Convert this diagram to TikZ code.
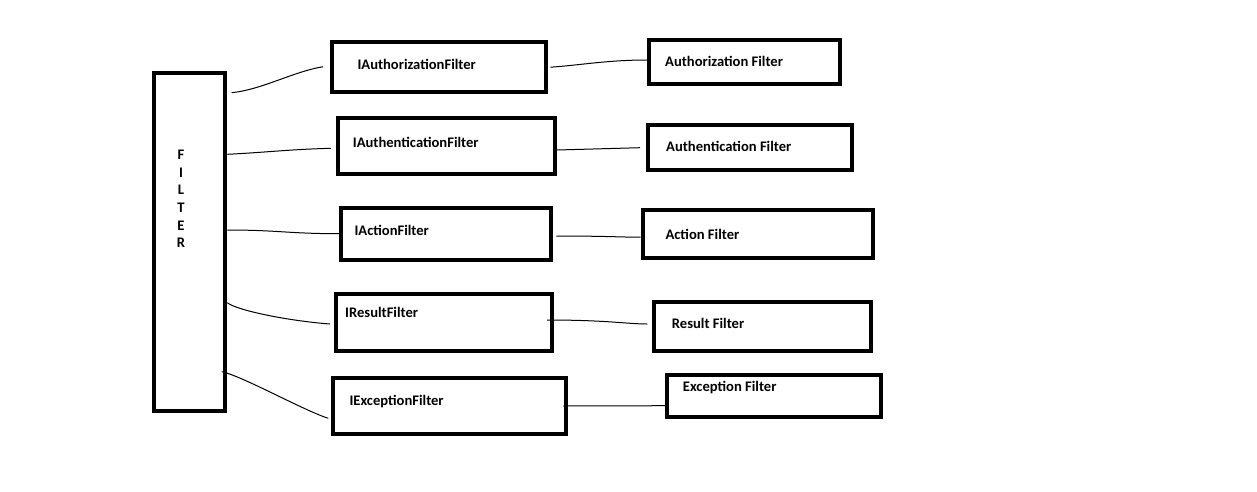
\documentclass[tikz,border=0pt]{standalone}
\usepackage{fontspec}
\setmainfont{Carlito}
\usetikzlibrary{calc}

\begin{document}
\begin{tikzpicture}[x=1pt,y=-1pt,
                    fbox/.style={draw, line width=4pt, inner sep=0pt},
                    lbl/.style={font=\bfseries\fontsize{14.6}{16}\selectfont, inner sep=0pt, anchor=base west},
                    wire/.style={line width=1pt}]
    \useasboundingbox (0,0) rectangle (1257,491);
    % main box
    \node[fbox, minimum width=71.6, minimum height=338.6] (filter) at (189.5,242) {};
    \foreach \ch [count=\i] in {F,I,L,T,E,R}
        \node[lbl, anchor=base] (ch\i) at (181,{159.3+17.7*(\i-1)}) {\ch};
    % interfaces
    \node[fbox, minimum width=214.3, minimum height=50.3] (iauthz) at (439.2,67.2) {};
    \node[fbox, minimum width=216.7, minimum height=56] (iauthn) at (446.3,146) {};
    \node[fbox, minimum width=210, minimum height=52] (iaction) at (446.3,233.7) {};
    \node[fbox, minimum width=216, minimum height=57.6] (iresult) at (444,322.5) {};
    \node[fbox, minimum width=233.6, minimum height=56] (iexcept) at (449.5,406) {};
    \node[lbl] (tiauthz) at (357.3,69.5) {IAuthorizationFilter};
    \node[lbl] (tiauthn) at (352.7,147.3) {IAuthenticationFilter};
    \node[lbl] (tiaction) at (354.3,235) {IActionFilter};
    \node[lbl] (tiresult) at (345,317.7) {IResultFilter};
    \node[lbl] (tiexcept) at (349.3,405.7) {IExceptionFilter};
    % filters
    \node[fbox, minimum width=191, minimum height=44] (authz) at (744.5,62) {};
    \node[fbox, minimum width=204, minimum height=44.4] (authn) at (750,147.5) {};
    \node[fbox, minimum width=230.3, minimum height=47.7] (action) at (757.8,234.2) {};
    \node[fbox, minimum width=217.6, minimum height=48.7] (result) at (762.5,326.3) {};
    \node[fbox, minimum width=214.3, minimum height=42.6] (except) at (774.2,396) {};
    \node[lbl] (tauthz) at (665,66) {Authorization Filter};
    \node[lbl] (tauthn) at (666,151.7) {Authentication Filter};
    \node[lbl] (taction) at (665.3,239.3) {Action Filter};
    \node[lbl] (tresult) at (671.7,328.3) {Result Filter};
    \node[lbl] (texcept) at (682.7,391.7) {Exception Filter};
    % left connectors
    \draw[wire] ($(filter.north east)+(4.4,22)$) .. controls +(30,-3) and +(-30,5) .. ($(iauthz.west)+(-7,-0.5)$);
    \draw[wire] ($(filter.north east)+(0,83.6)$) .. controls +(40,-2) and +(-40,1) .. ($(iauthn.west)+(-5,2.3)$);
    \draw[wire] ($(filter.north east)+(0,159.3)$) .. controls +(50,0) and +(-50,0) .. (iaction.west);
    \draw[wire] ($(filter.north east)+(0,232)$) .. controls +(10,8) and +(-40,-3) .. ($(iresult.west)+(-4,1.5)$);
    \draw[wire] ($(filter.north east)+(-5.6,301)$) .. controls +(20,4) and +(-25,-8) .. ($(iexcept.west)+(-2.4,12.3)$);
    % right connectors
    \draw[wire] ($(iauthz.east)+(2,0)$) .. controls +(30,-2) and +(-40,0) .. ($(authz.west)+(0,-2)$);
    \draw[wire] ($(iauthn.east)+(0,4)$) -- ($(authn.west)+(-6,0.2)$);
    \draw[wire] ($(iaction.east)+(3,2.3)$) .. controls +(50,0) and +(-20,0) .. ($(action.west)+(0,3)$);
    \draw[wire] ($(iresult.east)+(-7,-2.5)$) .. controls +(60,0) and +(-20,0) .. ($(result.west)+(-4.4,-2.3)$);
    \draw[wire] ($(iexcept.east)+(-5,0)$) -- ($(except.west)+(0,9.7)$);
\end{tikzpicture}
\end{document}
